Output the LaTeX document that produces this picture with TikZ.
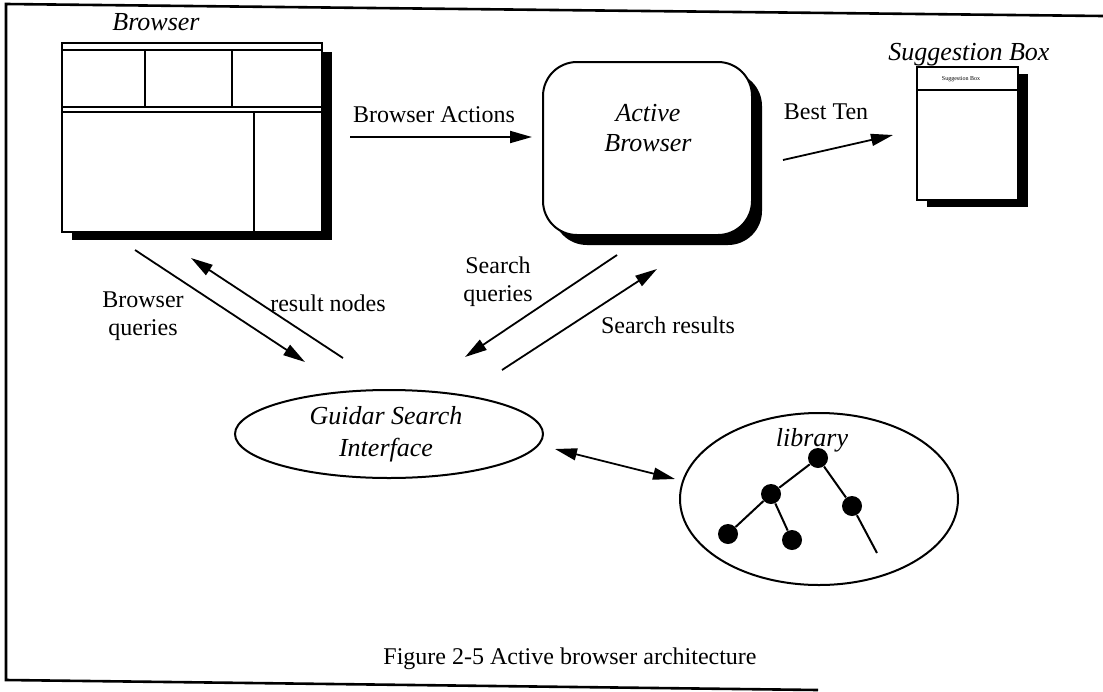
\documentclass[tikz,border=0pt]{standalone}
\usepackage{fontspec}
\setmainfont{Liberation Serif}
\usetikzlibrary{arrows.meta,shapes.geometric}

\begin{document}
\begin{tikzpicture}[x=0.5pt,y=-0.5pt,
  lbl/.style={font=\fontsize{12}{14.2}\selectfont, align=center, inner sep=0pt},
  ilbl/.style={font=\fontsize{13}{15}\selectfont\itshape, align=center, inner sep=0pt},
  flow/.style={-{Triangle[length=11pt,width=6pt]}, line width=0.9pt},
  both/.style={{Triangle[length=11pt,width=6pt]}-{Triangle[length=11pt,width=6pt]}, line width=0.9pt},
  win/.style={draw, line width=1pt, fill=white, inner sep=0pt},
  pane/.style={line width=1pt},
  dot/.style={circle, fill=black, inner sep=0pt, minimum size=10pt},
  branch/.style={line width=1pt},
]
\useasboundingbox (0,0) rectangle (1103,691);

% page frame
\draw[line width=1.3pt] (1103,16) -- (6,4) -- (6,680) -- (818,690);

% ---- browser window ----
\fill (72,52) rectangle (332,240);
\node[win, minimum width=130pt, minimum height=94.5pt] (browser) at (192,137.5) {};
\draw[pane] (62,50) -- (322,50);
\draw[pane] (62,107) -- (322,107);
\draw[pane] (62,112) -- (322,112);
\draw[pane] (145,50) -- (145,107);
\draw[pane] (232,50) -- (232,107);
\draw[pane] (254,112) -- (254,232);
\node[ilbl] (browserlbl) at (156,22) {Browser};

% ---- active browser ----
\fill[rounded corners=17pt] (553,72) rectangle (762,245);
\node[win, rounded corners=17pt, minimum width=104.5pt, minimum height=86.5pt] (active) at (647.5,148.5) {};
\node[ilbl] (activelbl) at (648,128) {Active\\Browser};

% ---- suggestion box ----
\fill (927,74) rectangle (1028,207);
\node[win, minimum width=50.5pt, minimum height=66.5pt] (suggest) at (967.5,133.5) {};
\draw[line width=1.3pt] (917,90) -- (1018,90);
\node[font=\fontsize{3}{3}\selectfont, inner sep=0pt] (suggesttitle) at (961,79) {Suggestion Box};
\node[ilbl] (suggestlbl) at (969,55) {Suggestion Box};

% ---- search interface ----
\node[draw, ellipse, line width=1pt, minimum width=154pt, minimum height=44pt, inner sep=0pt] (gsi) at (389,434) {};
\node[ilbl, font=\fontsize{13}{16}\selectfont\itshape] (gsilbl) at (386,434) {Guidar Search\\Interface};

% ---- library ----
\node[draw, ellipse, line width=1pt, minimum width=139pt, minimum height=86pt, inner sep=0pt] (lib) at (819,499) {};
\node[ilbl] (liblbl) at (812,440) {library};
\node[dot] (t1) at (818,458) {};
\node[dot] (t2) at (771,494) {};
\node[dot] (t3) at (852,506) {};
\node[dot] (t4) at (728,534) {};
\node[dot] (t5) at (792,540) {};
\coordinate (t6) at (877,553);
\draw[branch] (t1) -- (t2);
\draw[branch] (t1) -- (t3);
\draw[branch] (t2) -- (t4);
\draw[branch] (t2) -- (t5);
\draw[branch] (t3) -- (t6);

% ---- connector end points ----
\coordinate (baS) at (350,137);  \coordinate (baE) at (532,137);
\coordinate (btS) at (783,160);  \coordinate (btE) at (893,135);
\coordinate (bqS) at (135,250);  \coordinate (bqE) at (305,362);
\coordinate (rnS) at (343,358);  \coordinate (rnE) at (191,258);
\coordinate (sqS) at (617,255);  \coordinate (sqE) at (465,357);
\coordinate (srS) at (502,370);  \coordinate (srE) at (657,269);
\coordinate (lkA) at (555,449);  \coordinate (lkB) at (675,479);

% ---- connectors ----
\draw[flow] (baS) -- (baE);
\draw[flow] (btS) -- (btE);
\draw[flow] (bqS) -- (bqE);
\draw[flow] (rnS) -- (rnE);
\draw[flow] (sqS) -- (sqE);
\draw[flow] (srS) -- (srE);
\draw[both] (lkA) -- (lkB);

% ---- connector labels ----
\node[lbl] (balbl) at (434,115) {Browser Actions};
\node[lbl] (btlbl) at (826,112) {Best Ten};
\node[lbl] (bqlbl) at (143,316) {Browser\\queries};
\node[lbl] (rnlbl) at (328,303) {result nodes};
\node[lbl] (sqlbl) at (498,282) {Search\\queries};
\node[lbl] (srlbl) at (668,325) {Search results};

% ---- caption ----
\node[lbl] (caption) at (570,659) {Figure 2-5 Active browser architecture};
\end{tikzpicture}
\end{document}
